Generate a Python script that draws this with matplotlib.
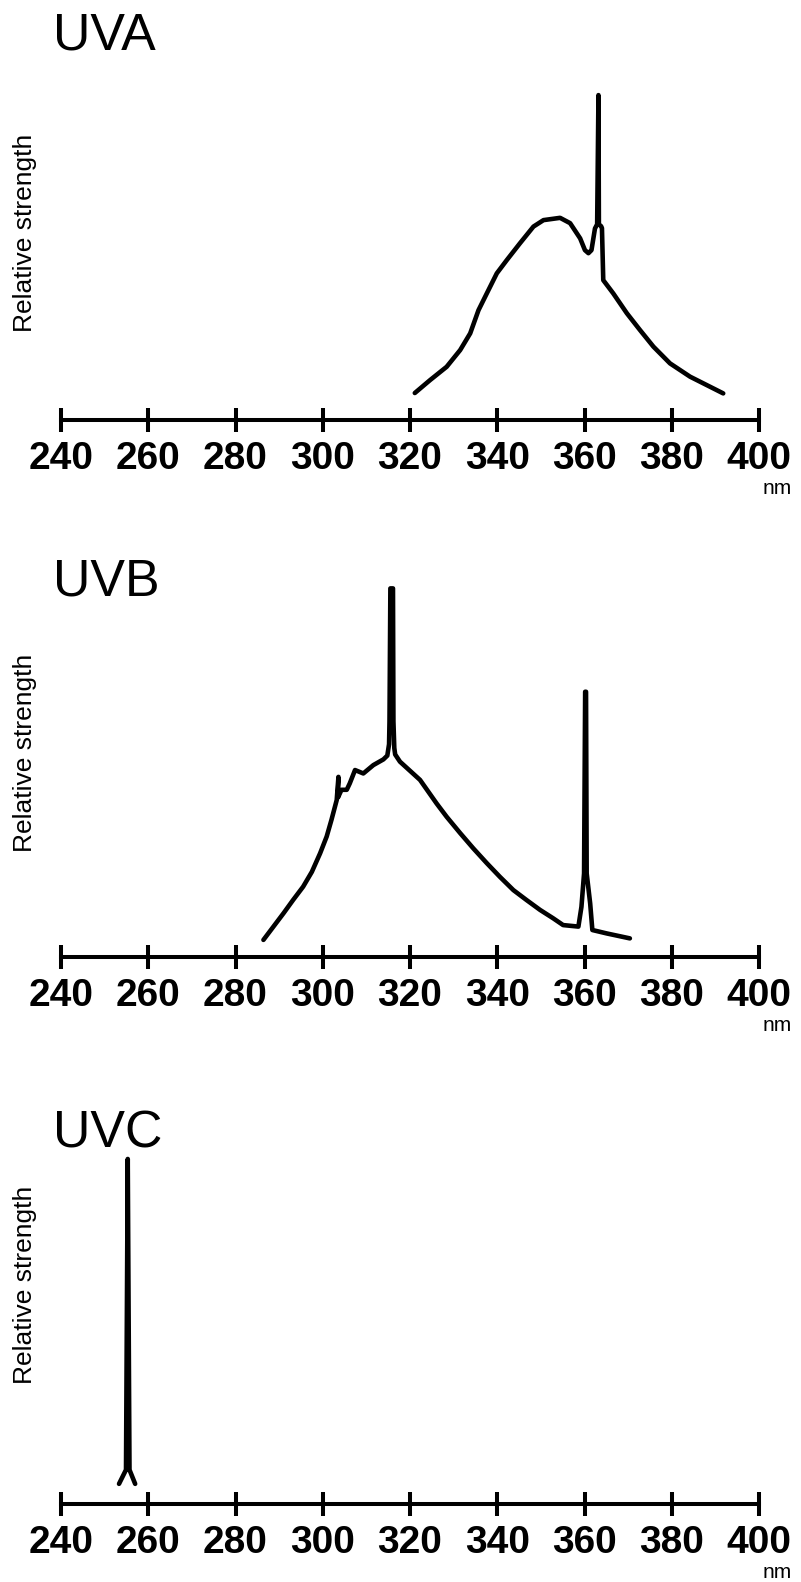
import matplotlib
matplotlib.use("Agg")
import matplotlib.pyplot as plt

plt.rcParams['font.family'] = ['Liberation Sans', 'DejaVu Sans']

# x ticks (nm)
tick_values = [240, 260, 280, 300, 320, 340, 360, 380, 400]
tick_labels = [str(v) for v in tick_values]

# UVA spectrum (wavelength nm, relative strength)
uva_nm = [321.1, 324.6, 328.4, 331.5, 333.8, 335.7, 337.6, 339.9, 342.2, 345.2,
          348.3, 350.6, 354.4, 356.7, 359.0, 360.1, 360.9, 361.6, 362.4, 362.9,
          363.2, 363.3, 363.8, 364.0, 364.3, 366.6, 369.7, 372.7, 375.8, 379.6,
          384.2, 388.0, 391.8]
uva_val = [7.1, 10.5, 14.0, 18.4, 22.8, 28.9, 33.3, 38.6, 42.1, 46.5,
           50.9, 52.6, 53.2, 51.8, 47.8, 44.7, 43.9, 44.7, 50.4, 51.5,
           85.5, 51.5, 51.0, 50.5, 36.8, 33.3, 28.1, 23.7, 19.3, 14.9,
           11.4, 9.2, 7.0]

# UVB spectrum
uvb_nm = [286.4, 288.7, 291.0, 293.2, 295.5, 297.5, 299.4, 300.9, 302.0, 303.2,
          303.6, 303.5, 304.3, 305.5, 306.2, 307.4, 309.3, 311.6, 313.9, 314.8,
          315.2, 315.3, 315.5, 316.1, 316.2, 316.4, 316.6, 317.7, 322.3, 326.1,
          328.4, 331.5, 334.5, 337.6, 340.6, 343.7, 346.7, 349.8, 352.8, 355.1,
          358.6, 359.3, 359.9, 360.15, 360.35, 360.5, 361.3, 361.8, 365.1, 370.4]
uvb_val = [4.5, 8.0, 11.5, 15.0, 18.5, 22.4, 27.3, 31.7, 36.1, 41.3,
           47.4, 42.0, 44.0, 44.0, 45.7, 49.2, 48.3, 50.5, 52.0, 53.0,
           56.0, 62.0, 97.0, 97.0, 62.0, 55.0, 53.3, 51.4, 46.6, 40.4,
           36.9, 32.6, 28.6, 24.7, 21.1, 17.6, 15.0, 12.4, 10.2, 8.4,
           8.0, 13.2, 22.0, 69.8, 69.8, 22.0, 14.1, 7.1, 6.2, 4.9]

# UVC spectrum
uvc_nm = [253.3, 254.9, 255.15, 255.3, 255.45, 255.7, 257.0]
uvc_val = [5.3, 9.0, 60.0, 90.8, 60.0, 9.0, 5.3]

panels = [
    # title, x, y, axis y (px), y-label centre (px), title baseline (px)
    ("UVA", uva_nm, uva_val, 420, 233, 49),
    ("UVB", uvb_nm, uvb_val, 957, 753, 595),
    ("UVC", uvc_nm, uvc_val, 1504, 1285, 1147),
]

W, H = 801, 1582
fig = plt.figure(figsize=(W / 100, H / 100), dpi=100)
fig.patch.set_facecolor('white')

x_left_px, x_right_px = 61, 759
ax_h_px = 380

for title, xs, ys, axis_y, lab_y, title_y in panels:
    ax = fig.add_axes([x_left_px / W, (H - axis_y) / H,
                       (x_right_px - x_left_px) / W, ax_h_px / H])
    ax.set_xlim(240, 400)
    ax.set_ylim(0, 100)
    ax.plot(xs, ys, color='black', lw=3.3, solid_joinstyle='round',
            solid_capstyle='round', clip_on=False)
    for s in ['top', 'left', 'right']:
        ax.spines[s].set_visible(False)
    ax.spines['bottom'].set_linewidth(2.9)
    ax.spines['bottom'].set_color('black')
    ax.set_yticks([])
    ax.set_xticks(tick_values)
    ax.set_xticklabels(tick_labels)
    ax.tick_params(axis='x', direction='inout', length=17.3, width=2.9,
                   pad=6.5, labelsize=28, colors='black')
    for lbl in ax.get_xticklabels():
        lbl.set_fontweight('bold')
    ax.patch.set_visible(False)

    # panel title
    fig.text(53 / W, (H - title_y) / H, title, fontsize=37.4,
             ha='left', va='baseline')
    # y label
    fig.text(25 / W, (H - lab_y) / H, "Relative strength", fontsize=19,
             rotation=90, ha='center', va='center')
    # unit
    fig.text(777 / W, (H - (axis_y + 74)) / H, "nm", fontsize=15,
             ha='center', va='baseline')

fig.savefig("out.png", dpi=100, facecolor='white')
